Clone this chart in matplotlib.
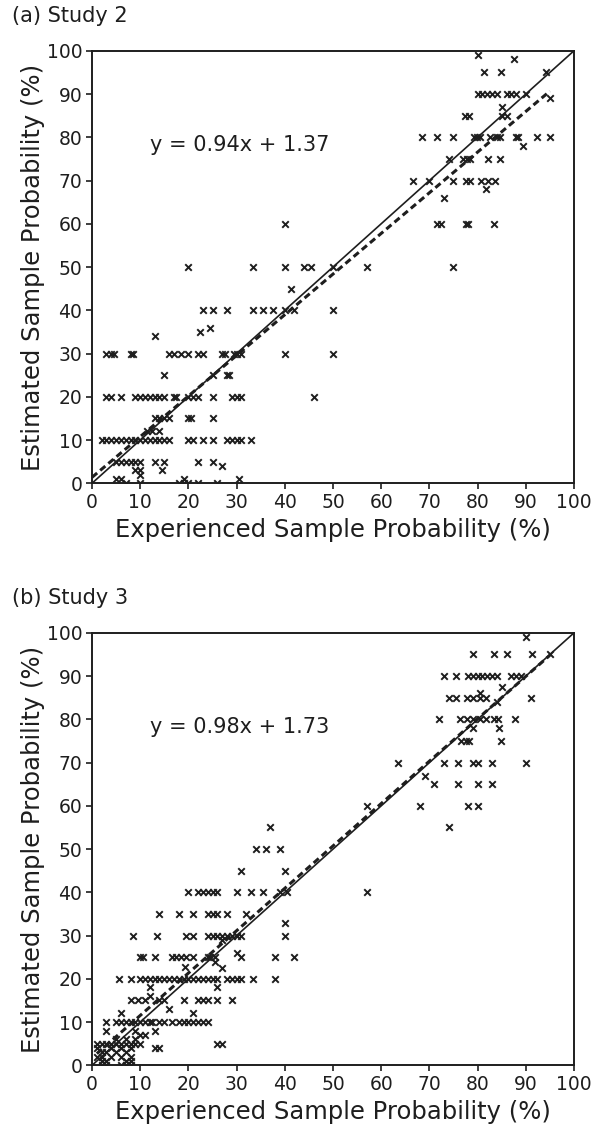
import numpy as np
import matplotlib
matplotlib.use('Agg')
import matplotlib.pyplot as plt

# (experienced %, estimated %), grouped by estimated row
study2_pts = [
    (7, 0), (10, 0), (18, 0), (19, 0), (20, 0), (22, 0), (26, 0),
    (5, 1), (6, 1), (19, 1), (30.5, 1), (10, 2), (9, 3), (10, 3), (14.5, 3), (27, 4),
    (5, 5), (6, 5), (7, 5), (8, 5), (9, 5), (10, 5), (13, 5), (15, 5), (22, 5), (25, 5),
    (2, 10), (3, 10), (4, 10), (5, 10), (6, 10), (7, 10), (8, 10), (9, 10), (10, 10), (11, 10),
    (12, 10), (13, 10), (14, 10), (15, 10), (16, 10), (20, 10), (21, 10), (23, 10), (25, 10),
    (28, 10), (29, 10), (30, 10), (31, 10), (33, 10),
    (11.5, 12), (12.5, 12), (14, 12),
    (13, 15), (14, 15), (15, 15), (16, 15), (20, 15), (20.5, 15), (25, 15),
    (3, 20), (4, 20), (6, 20), (9, 20), (10, 20), (11, 20), (12, 20), (13, 20), (14, 20), (15, 20),
    (17, 20), (17.5, 20), (20, 20), (21, 20), (22, 20), (25, 20), (29, 20), (30, 20), (31, 20), (46, 20),
    (15, 25), (25, 25), (28, 25), (28.5, 25),
    (3, 30), (4, 30), (4.5, 30), (8, 30), (8.5, 30), (16, 30), (17, 30), (18.5, 30), (20, 30), (22, 30),
    (23, 30), (27, 30), (27.5, 30), (29.5, 30), (30, 30), (31, 30), (40, 30), (50, 30),
    (13, 34), (22.5, 35), (24.5, 36),
    (23, 40), (25, 40), (28, 40), (33.5, 40), (35.5, 40), (37.5, 40), (40, 40), (42, 40), (50, 40),
    (41.3, 45),
    (20, 50), (33.5, 50), (40, 50), (44, 50), (45.5, 50), (50, 50), (57, 50), (75, 50),
    (40, 60), (71.5, 60), (72.5, 60), (77.5, 60), (78, 60), (83.5, 60),
    (73, 66), (81.7, 68),
    (66.7, 70), (70, 70), (75, 70), (77.5, 70), (78.4, 70), (80.8, 70), (82.2, 70), (83.6, 70),
    (74, 75), (77, 75), (77.7, 75), (78.4, 75), (82.2, 75), (84.6, 75), (89.5, 78),
    (68.4, 80), (71.5, 80), (75, 80), (79.3, 80), (79.9, 80), (80.5, 80), (82.6, 80), (84, 80),
    (84.6, 80), (88, 80), (88.3, 80), (92.3, 80), (95, 80),
    (77.4, 85), (78.3, 85), (85, 85), (86, 85), (85, 87), (95, 89),
    (80, 90), (81, 90), (82, 90), (83, 90), (84, 90), (86, 90), (87, 90), (88, 90), (90, 90),
    (81.4, 95), (84.8, 95), (94.2, 95), (87.5, 98), (80, 99),
]

study3_pts = [
    (2, 0), (3, 0), (6, 0), (7, 0), (8, 0), (2, 1), (3, 1), (7, 1), (8, 1),
    (1, 2), (2, 2), (4, 2), (6, 2), (8, 2), (2, 3), (3, 3), (5, 3), (7, 3),
    (1, 4), (4, 4), (6, 4), (8, 4), (13, 4), (14, 4),
    (1, 5), (2, 5), (3, 5), (4, 5), (5, 5), (6, 5), (7, 5), (8, 5), (9, 5), (10, 5), (26, 5), (27, 5),
    (5, 6), (7, 6), (9, 6), (10, 7), (11, 7), (3, 8), (9, 8), (13, 8),
    (3, 10), (5, 10), (6, 10), (7, 10), (8, 10), (9, 10), (10, 10), (11, 10), (12, 10), (12.5, 10),
    (14, 10), (15, 10), (16.5, 10), (18, 10), (19, 10), (20, 10), (21, 10), (22, 10), (23, 10), (24, 10),
    (6, 12), (21, 12), (16, 13),
    (8, 15), (9.5, 15), (11, 15), (14, 15), (15, 15), (19, 15), (22, 15), (23, 15), (24, 15), (26, 15), (29, 15),
    (12, 16), (12, 18), (26, 18),
    (5.5, 20), (8, 20), (10, 20), (11, 20), (12, 20), (13, 20), (14, 20), (15, 20), (16, 20), (17, 20),
    (18, 20), (19, 20), (20, 20), (21, 20), (22, 20), (23, 20), (24, 20), (25, 20), (26, 20), (28, 20),
    (29, 20), (30, 20), (31, 20), (33.5, 20), (38, 20),
    (27, 22.6), (19.3, 22.8), (25.5, 24),
    (10, 25), (10.5, 25), (13, 25), (16.5, 25), (17.5, 25), (18.5, 25), (19.5, 25), (21, 25), (24, 25),
    (24.5, 25), (25.5, 25), (31, 25), (38, 25), (42, 25), (30, 26), (27, 29),
    (8.5, 30), (13.5, 30), (19.6, 30), (21, 30), (24, 30), (25, 30), (26, 30), (27, 30), (28, 30),
    (29, 30), (30, 30), (31, 30), (40, 30), (40, 33),
    (14, 35), (18, 35), (21, 35), (24, 35), (25, 35), (26, 35), (28, 35), (32, 35),
    (20, 40), (22, 40), (23, 40), (24, 40), (25, 40), (26, 40), (30, 40), (33, 40), (35.5, 40),
    (39, 40), (40.5, 40), (57, 40),
    (31, 45), (40, 45), (34, 50), (36, 50), (39, 50), (37, 55), (74, 55),
    (57, 60), (68, 60), (78, 60), (80, 60), (71, 65), (76, 65), (80, 65), (83, 65), (69, 67),
    (63.5, 70), (73, 70), (76, 70), (79, 70), (80, 70), (83, 70), (90, 70),
    (76.5, 75), (77.5, 75), (78.3, 75), (84.8, 75), (79, 78), (84.5, 78),
    (72, 80), (76.3, 80), (77.7, 80), (79, 80), (80.5, 80), (81.8, 80), (83.4, 80), (84.3, 80), (87.7, 80),
    (84, 84), (74, 85), (75.6, 85), (77.7, 85), (79, 85), (80.5, 85), (81.8, 85), (91, 85),
    (80.5, 86), (85, 87.5),
    (73, 90), (75.6, 90), (78, 90), (79, 90), (80, 90), (81, 90), (82, 90), (83, 90), (84, 90),
    (87, 90), (88, 90), (89, 90),
    (79, 95), (83.4, 95), (86.2, 95), (91.2, 95), (95, 95), (90, 99),
]

# regression fits printed on the chart (slope, intercept) and their x range
study2_fit = (0.94, 1.37)
study3_fit = (0.98, 1.73)
study2_fit_range = (0, 95)
study3_fit_range = (1, 95)

panel_titles = ['(a) Study 2', '(b) Study 3']
ticks = np.arange(0, 101, 10)

INK = '#1e1e1e'
plt.rcParams['font.family'] = ['DejaVu Sans']
plt.rcParams['text.color'] = INK
plt.rcParams['axes.labelcolor'] = INK
plt.rcParams['xtick.color'] = INK
plt.rcParams['ytick.color'] = INK

fig = plt.figure(figsize=(5.94, 11.36), dpi=100)
ax_a = fig.add_axes([0.1549, 0.5746, 0.8114, 0.3807])
ax_b = fig.add_axes([0.1549, 0.0622, 0.8114, 0.3807])


def draw_panel(ax, pts, fit, fit_range, title, title_y):
    xs, ys = zip(*pts)
    ax.scatter(xs, ys, marker='x', s=22, linewidths=1.4, color=INK, zorder=3)
    ax.plot([0, 100], [0, 100], color=INK, lw=1.2, zorder=2)
    fx = np.array(fit_range)
    ax.plot(fx, fit[0] * fx + fit[1], color=INK, lw=2.2,
            linestyle=(0, (2.2, 1.3)), zorder=2)
    ax.text(12, 78.3, f'y = {fit[0]:.2f}x + {fit[1]:.2f}', fontsize=15,
            va='center', ha='left')

    ax.set_xlim(0, 100)
    ax.set_ylim(0, 100)
    ax.set_xticks(ticks)
    ax.set_yticks(ticks)
    ax.tick_params(direction='out', length=4, width=1.2, labelsize=13.5, pad=3)
    for sp in ax.spines.values():
        sp.set_linewidth(1.4)
        sp.set_color(INK)
    ax.set_xlabel('Experienced Sample Probability (%)', fontsize=17.5, labelpad=4)
    ax.set_ylabel('Estimated Sample Probability (%)', fontsize=17.5, labelpad=1)
    fig.text(0.02, title_y, title, fontsize=15, va='center', ha='left')


draw_panel(ax_a, study2_pts, study2_fit, study2_fit_range, panel_titles[0], 0.986)
draw_panel(ax_b, study3_pts, study3_fit, study3_fit_range, panel_titles[1], 0.474)

fig.savefig('out.png', dpi=100)
